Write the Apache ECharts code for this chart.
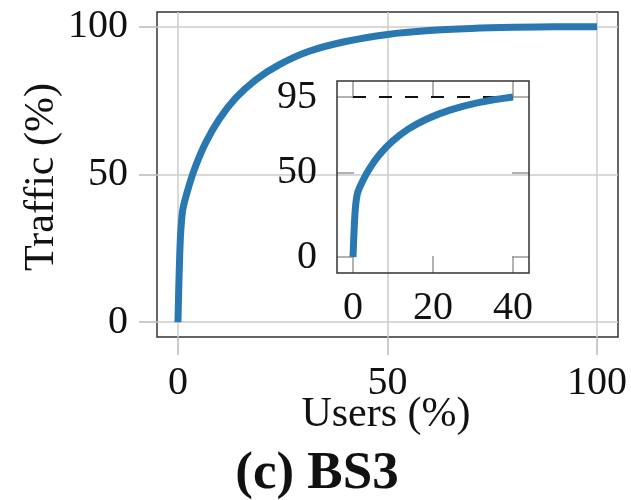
<!DOCTYPE html>
<html>
<head>
<meta charset="utf-8">
<script src="https://cdn.jsdelivr.net/npm/echarts@6/dist/echarts.min.js"></script>
<style>html,body{margin:0;padding:0;background:#fff}#c{width:631px;height:500px}</style>
</head>
<body>
<div id="c"></div>
<script>
const users   = [0, 0.2, 0.45, 0.7, 1.2, 2.6, 4.2, 6.6, 9.8, 13.8, 18.6, 24.2, 31.3, 40, 50, 60, 70, 80, 90, 100];
const traffic = [0, 12, 24, 31.5, 38.5, 46, 52.8, 60.7, 68.6, 75.9, 82.1, 87.2, 91.7, 95, 97.4, 98.7, 99.4, 99.8, 100, 100];
const mainTicks = [0, 50, 100];
const insetXTicks = [0, 20, 40];
const insetYTicks = [0, 50, 95];
const insetMaxUsers = 40;
const refTraffic = 95;

const mainData = users.map((u, i) => [u, traffic[i]]);
const insetData = mainData.filter(p => p[0] <= insetMaxUsers);

const FONT = 'Liberation Serif';
const lbl = {fontFamily: FONT, fontSize: 40, color: '#111'};
const chart = echarts.init(document.getElementById('c'));

function mainAxis(extra, margin) {
  return Object.assign({
    type: 'value', gridIndex: 0, min: -5, max: 105,
    axisLine: {show: false, onZero: false},
    axisTick: {show: true, inside: false, length: 18, customValues: mainTicks, lineStyle: {color: '#bbb', width: 1.5}},
    axisLabel: Object.assign({customValues: mainTicks, margin: margin}, lbl),
    splitLine: {show: true, lineStyle: {color: '#ccc', width: 1.5}}
  }, extra);
}
function insetAxis(extra, ticks, min, max, showLabel, margin) {
  return Object.assign({
    type: 'value', gridIndex: 1, min: min, max: max,
    axisLine: {show: false, onZero: false},
    axisTick: {show: true, inside: true, length: 17, customValues: ticks, lineStyle: {color: '#999', width: 1.5}},
    axisLabel: Object.assign({show: showLabel, customValues: ticks, margin: margin}, lbl),
    splitLine: {show: false}
  }, extra);
}

chart.setOption({
  animation: false,
  grid: [
    {left: 157, right: 13, top: 12, bottom: 163, show: true, borderColor: '#333', borderWidth: 1.5, backgroundColor: 'transparent'},
    {left: 337, right: 102, top: 81, bottom: 227, show: true, borderColor: '#333', borderWidth: 1.5, backgroundColor: 'transparent', z: 5}
  ],
  xAxis: [
    mainAxis({position: 'bottom'}, 26),
    insetAxis({position: 'bottom'}, insetXTicks, -4, 44, true, 15),
    insetAxis({position: 'top'}, insetXTicks, -4, 44, false, 8)
  ],
  yAxis: [
    mainAxis({position: 'left'}, 29),
    insetAxis({position: 'left'}, insetYTicks, -9.5, 104.5, true, 20),
    insetAxis({position: 'right'}, insetYTicks, -9.5, 104.5, false, 8)
  ],
  series: [
    {type: 'line', xAxisIndex: 0, yAxisIndex: 0, data: mainData, smooth: 0.3, showSymbol: false,
     lineStyle: {color: '#2a78b2', width: 7}, z: 3},
    {type: 'line', xAxisIndex: 1, yAxisIndex: 1, data: [[0, refTraffic], [insetMaxUsers, refTraffic]], showSymbol: false,
     lineStyle: {color: '#111', width: 2, type: [13, 13]}, z: 6},
    {type: 'line', xAxisIndex: 1, yAxisIndex: 1, data: insetData, smooth: 0.3, showSymbol: false,
     lineStyle: {color: '#2a78b2', width: 7}, z: 7},
    {type: 'line', xAxisIndex: 2, yAxisIndex: 2, data: [], showSymbol: false}
  ],
  graphic: [
    {type: 'text', x: 42, y: 177, rotation: Math.PI / 2,
     style: {text: 'Traffic (%)', fontFamily: FONT, fontSize: 42, fill: '#111', align: 'center', verticalAlign: 'middle'}},
    {type: 'text', x: 386, y: 415,
     style: {text: 'Users (%)', fontFamily: FONT, fontSize: 42, fill: '#111', align: 'center', verticalAlign: 'middle'}},
    {type: 'text', x: 317, y: 474,
     style: {text: '(c) BS3', fontFamily: FONT, fontSize: 53, fontWeight: 'bold', fill: '#111', align: 'center', verticalAlign: 'middle'}}
  ]
});
</script>
</body>
</html>
